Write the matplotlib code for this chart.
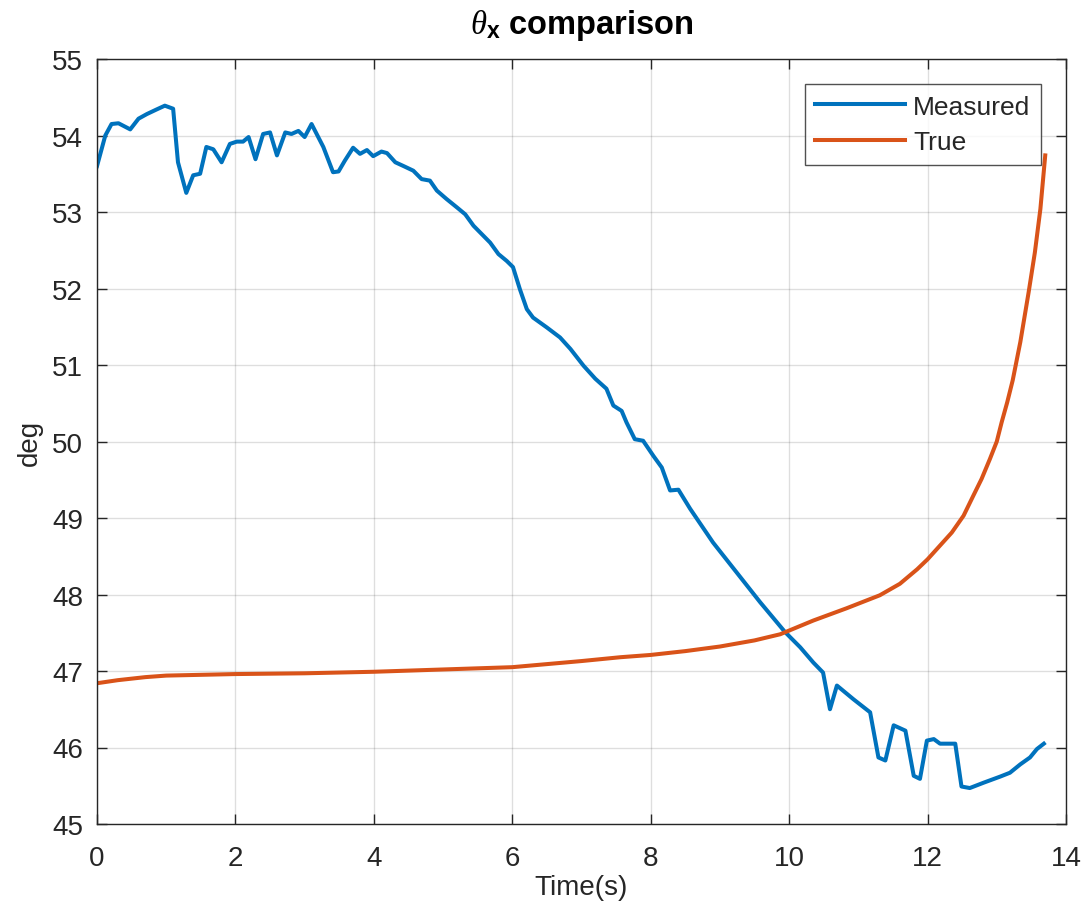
import matplotlib
matplotlib.use("Agg")
import matplotlib.pyplot as plt

# Measured series
t_meas = [0, 0.12, 0.21, 0.31, 0.48, 0.60, 0.72, 0.86, 0.98, 1.10, 1.17, 1.29, 1.39, 1.49,
          1.58, 1.68, 1.80, 1.92, 2.02, 2.11, 2.19, 2.29, 2.40, 2.50, 2.60, 2.72, 2.81, 2.91,
          3.00, 3.10, 3.27, 3.41, 3.49, 3.58, 3.70, 3.80, 3.90, 3.99, 4.11, 4.19, 4.31, 4.43,
          4.57, 4.69, 4.81, 4.91, 5.05, 5.20, 5.32, 5.44, 5.68, 5.80, 5.92, 6.01, 6.11, 6.21,
          6.30, 6.50, 6.69, 6.84, 7.03, 7.20, 7.36, 7.46, 7.58, 7.65, 7.77, 7.89, 8.04, 8.16,
          8.28, 8.40, 8.57, 8.90, 9.24, 9.58, 9.94, 10.16, 10.35, 10.49, 10.59, 10.69, 10.93,
          11.17, 11.29, 11.39, 11.51, 11.68, 11.80, 11.89, 11.99, 12.09, 12.18, 12.40, 12.49,
          12.61, 12.81, 13.05, 13.19, 13.34, 13.48, 13.58, 13.68]
y_meas = [53.60, 54.00, 54.15, 54.16, 54.08, 54.22, 54.28, 54.34, 54.39, 54.35, 53.65, 53.25,
          53.48, 53.50, 53.85, 53.82, 53.65, 53.89, 53.92, 53.92, 53.98, 53.69, 54.02, 54.04,
          53.74, 54.04, 54.02, 54.06, 53.98, 54.15, 53.85, 53.52, 53.53, 53.67, 53.84, 53.76,
          53.81, 53.73, 53.79, 53.77, 53.65, 53.60, 53.54, 53.43, 53.41, 53.28, 53.17, 53.06,
          52.97, 52.82, 52.60, 52.45, 52.36, 52.28, 51.99, 51.73, 51.62, 51.49, 51.36, 51.21,
          50.99, 50.82, 50.69, 50.47, 50.40, 50.25, 50.03, 50.01, 49.81, 49.66, 49.36, 49.37,
          49.12, 48.68, 48.29, 47.90, 47.51, 47.31, 47.11, 46.98, 46.50, 46.81, 46.63, 46.46,
          45.87, 45.83, 46.29, 46.22, 45.63, 45.59, 46.09, 46.11, 46.05, 46.05, 45.49, 45.47,
          45.54, 45.62, 45.67, 45.78, 45.87, 45.98, 46.05]

# True series
t_true = [0, 0.3, 0.7, 1.0, 1.5, 2, 3, 4, 5, 6, 6.5, 7, 7.56, 8, 8.5, 9, 9.5, 9.87, 10.35,
          10.83, 11.31, 11.60, 11.85, 12.00, 12.18, 12.35, 12.52, 12.66, 12.78, 12.90, 13.00,
          13.07, 13.15, 13.23, 13.34, 13.46, 13.55, 13.63, 13.70]
y_true = [46.84, 46.88, 46.92, 46.94, 46.95, 46.96, 46.97, 46.99, 47.02, 47.05, 47.09, 47.13,
          47.18, 47.21, 47.26, 47.32, 47.40, 47.48, 47.66, 47.82, 47.99, 48.14, 48.33, 48.46,
          48.64, 48.81, 49.03, 49.29, 49.51, 49.77, 50.00, 50.25, 50.51, 50.80, 51.30, 51.95,
          52.47, 53.04, 53.74]

x_ticks = [0, 2, 4, 6, 8, 10, 12, 14]
y_ticks = [45, 46, 47, 48, 49, 50, 51, 52, 53, 54, 55]

TXT = "#262626"
plt.rcParams['font.family'] = ['Liberation Sans', 'DejaVu Sans']
plt.rcParams['mathtext.fontset'] = 'custom'
plt.rcParams['mathtext.it'] = 'Liberation Serif:italic'
plt.rcParams['mathtext.bf'] = 'Liberation Sans:bold'
plt.rcParams['mathtext.rm'] = 'Liberation Sans'

fig = plt.figure(figsize=(10.86, 9.2), dpi=100)
ax = fig.add_axes([97/1086, 1 - 825/920, (1066-97)/1086, (825-60)/920])

ax.plot(t_meas, y_meas, color="#0072BD", lw=2.9, label="Measured", solid_joinstyle='round')
ax.plot(t_true, y_true, color="#D95319", lw=2.9, label="True", solid_joinstyle='round')

ax.set_xlim(0, 14)
ax.set_ylim(45, 55)
ax.set_xticks(x_ticks)
ax.set_yticks(y_ticks)
ax.grid(True, color="#262626", alpha=0.15, lw=1.0)
ax.set_axisbelow(True)
ax.tick_params(direction='in', length=7, width=1, colors=TXT, labelsize=20,
               top=True, right=True)
ax.tick_params(axis='x', pad=15)
ax.tick_params(axis='y', pad=10)
for s in ax.spines.values():
    s.set_color(TXT)
    s.set_linewidth(1.0)

ax.set_xlabel("Time(s)", fontsize=20, color=TXT, labelpad=2)
ax.set_ylabel("deg", fontsize=20, color=TXT, labelpad=7)
ax.set_title(r"$\theta_{\mathbf{x}}$ comparison", fontsize=23.5, fontweight='bold',
             color="black", pad=19)

leg = ax.legend(loc='upper right', fontsize=19, frameon=True, fancybox=False,
                edgecolor=TXT, handlelength=3.4, handletextpad=0.3,
                borderaxespad=0.95, labelspacing=0.45, borderpad=0.4)
leg.get_frame().set_linewidth(1.0)
for t in leg.get_texts():
    t.set_color(TXT)

fig.savefig("out.png", dpi=100)
